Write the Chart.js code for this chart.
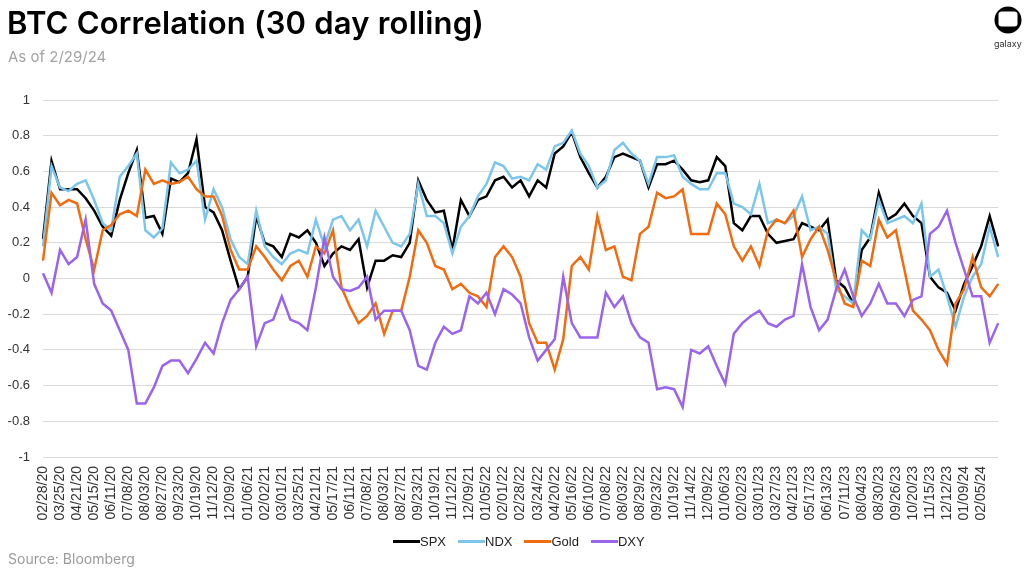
<!DOCTYPE html>
<html>
<head>
<meta charset="utf-8">
<script src="https://cdn.jsdelivr.net/npm/chart.js@4.4.1/dist/chart.umd.min.js"></script>
<style>
  html, body { margin: 0; padding: 0; background: #fff; }
  #wrap { position: relative; width: 1024px; height: 574px; overflow: hidden; font-family: "Liberation Sans", Arial, sans-serif; }
  #chartBox { position: absolute; left: 0; top: 0; width: 1024px; height: 574px; }
  .title { position: absolute; left: 7px; top: 4px; font-family: Inter, sans-serif; font-weight: 600; font-size: 31px; color: #000; letter-spacing: 0.2px; }
  .subtitle { position: absolute; left: 8px; top: 47px; font-family: Inter, sans-serif; font-size: 15px; color: #a3a3a3; }
  .source { position: absolute; left: 8px; top: 550px; font-family: Inter, sans-serif; font-size: 14px; color: #9b9b9b; }
  .logo { position: absolute; left: 992px; top: 5px; }
  .logoText { position: absolute; left: 994px; top: 38px; font-family: Inter, sans-serif; font-size: 9px; color: #333; }
  .legend { position: absolute; left: 393px; top: 534px; display: flex; gap: 12px; font-size: 13px; color: #222; }
  .legend span { display: flex; align-items: center; }
  .legend i { display: inline-block; width: 27px; height: 3px; }
</style>
</head>
<body>
<div id="wrap">
  <div id="chartBox"><canvas id="corrChart"></canvas></div>
  <div class="title">BTC Correlation (30 day rolling)</div>
  <div class="subtitle">As of 2/29/24</div>
  <svg class="logo" width="32" height="32" viewBox="0 0 32 32">
    <circle cx="16" cy="15" r="13.5" fill="#000"/>
    <rect x="6.5" y="6.5" width="19" height="15" rx="3" fill="#fff"/>
  </svg>
  <div class="logoText">galaxy</div>
  <div class="legend" id="legend"></div>
  <div class="source">Source: Bloomberg</div>
</div>
<script>
// tick labels shown on the x axis (every 18 trading days)
const tickLabels = [
  "02/28/20","03/25/20","04/21/20","05/15/20","06/11/20","07/08/20","08/03/20","08/27/20",
  "09/23/20","10/19/20","11/12/20","12/09/20","01/06/21","02/02/21","03/01/21","03/25/21",
  "04/21/21","05/17/21","06/11/21","07/08/21","08/03/21","08/27/21","09/23/21","10/19/21",
  "11/12/21","12/09/21","01/05/22","02/01/22","02/28/22","03/24/22","04/20/22","05/16/22",
  "06/10/22","07/08/22","08/03/22","08/29/22","09/23/22","10/19/22","11/14/22","12/09/22",
  "01/06/23","02/02/23","03/01/23","03/27/23","04/21/23","05/17/23","06/13/23","07/11/23",
  "08/04/23","08/30/23","09/26/23","10/20/23","11/15/23","12/12/23","01/09/24","02/05/24"
];
// two readings per tick interval
const samplesPerTick = 2;

const spx = [
  0.22,0.66,0.50,0.50,0.50,0.45,0.38,0.29,0.24,0.44,0.59,0.72,0.34,0.35,0.25,0.56,0.54,0.59,0.78,0.40,
  0.37,0.27,0.10,-0.06,0.01,0.35,0.20,0.18,0.12,0.25,0.23,0.27,0.20,0.07,0.14,0.18,0.16,0.22,-0.05,0.10,
  0.10,0.13,0.12,0.20,0.55,0.44,0.37,0.38,0.16,0.44,0.35,0.44,0.46,0.55,0.57,0.51,0.55,0.46,0.55,0.51,
  0.70,0.74,0.82,0.68,0.59,0.51,0.57,0.68,0.70,0.68,0.66,0.51,0.64,0.64,0.66,0.61,0.55,0.54,0.55,0.68,
  0.63,0.31,0.27,0.35,0.35,0.25,0.20,0.21,0.22,0.31,0.29,0.27,0.33,-0.01,-0.05,-0.14,0.16,0.23,0.48,0.33,
  0.36,0.42,0.35,0.31,0.01,-0.05,-0.08,-0.18,-0.03,0.07,0.18,0.35,0.18
];
const ndx = [
  0.18,0.63,0.51,0.49,0.53,0.55,0.44,0.31,0.27,0.57,0.63,0.70,0.27,0.23,0.28,0.65,0.59,0.61,0.66,0.33,
  0.50,0.40,0.22,0.12,0.08,0.38,0.18,0.12,0.08,0.14,0.16,0.14,0.33,0.18,0.33,0.35,0.27,0.33,0.18,0.38,
  0.29,0.20,0.18,0.25,0.53,0.35,0.35,0.31,0.14,0.29,0.35,0.46,0.53,0.65,0.63,0.56,0.57,0.55,0.64,0.61,
  0.74,0.76,0.83,0.70,0.63,0.51,0.55,0.72,0.76,0.70,0.66,0.53,0.68,0.68,0.69,0.57,0.53,0.50,0.50,0.59,
  0.59,0.42,0.40,0.36,0.53,0.31,0.33,0.31,0.35,0.46,0.27,0.29,0.25,-0.06,-0.10,-0.14,0.27,0.22,0.44,0.31,
  0.33,0.35,0.31,0.42,0.01,0.05,-0.10,-0.27,-0.10,0.01,0.08,0.29,0.12
];
const gold = [
  0.10,0.48,0.41,0.44,0.42,0.22,0.05,0.27,0.30,0.36,0.38,0.35,0.61,0.53,0.55,0.53,0.54,0.57,0.50,0.46,
  0.46,0.35,0.16,0.05,0.05,0.18,0.12,0.05,-0.01,0.07,0.10,0.01,0.18,0.14,0.27,-0.05,-0.16,-0.25,-0.21,-0.14,
  -0.31,-0.18,-0.18,0.01,0.27,0.20,0.07,0.05,-0.06,-0.03,-0.08,-0.10,-0.16,0.12,0.18,0.12,0.01,-0.25,-0.36,-0.36,
  -0.51,-0.34,0.07,0.12,0.05,0.35,0.16,0.18,0.01,-0.01,0.25,0.29,0.48,0.45,0.46,0.50,0.25,0.25,0.25,0.42,
  0.36,0.18,0.10,0.18,0.07,0.27,0.33,0.31,0.38,0.12,0.22,0.29,0.16,-0.01,-0.14,-0.16,0.10,0.07,0.33,0.23,
  0.27,0.05,-0.18,-0.23,-0.29,-0.40,-0.48,-0.14,-0.06,0.12,-0.05,-0.10,-0.03
];
const dxy = [
  0.03,-0.08,0.16,0.08,0.12,0.33,-0.03,-0.14,-0.18,-0.29,-0.40,-0.70,-0.70,-0.61,-0.49,-0.46,-0.46,-0.53,-0.45,-0.36,
  -0.42,-0.25,-0.12,-0.06,0.01,-0.38,-0.25,-0.23,-0.10,-0.23,-0.25,-0.29,-0.05,0.23,0.01,-0.06,-0.07,-0.05,0.01,-0.23,
  -0.18,-0.18,-0.18,-0.29,-0.49,-0.51,-0.36,-0.27,-0.31,-0.29,-0.10,-0.14,-0.08,-0.20,-0.06,-0.09,-0.14,-0.33,-0.46,-0.40,
  -0.34,0.01,-0.25,-0.33,-0.33,-0.33,-0.08,-0.16,-0.10,-0.25,-0.33,-0.36,-0.62,-0.61,-0.62,-0.72,-0.40,-0.42,-0.38,-0.49,
  -0.59,-0.31,-0.25,-0.21,-0.18,-0.25,-0.27,-0.23,-0.21,0.08,-0.16,-0.29,-0.23,-0.06,0.05,-0.10,-0.21,-0.14,-0.03,-0.14,
  -0.14,-0.21,-0.12,-0.10,0.25,0.29,0.38,0.20,0.05,-0.10,-0.10,-0.36,-0.25
];

const seriesNames = ["SPX", "NDX", "Gold", "DXY"];
const seriesColors = ["#000000", "#7cc6ec", "#ef6c10", "#9a64ec"];
const seriesData = [spx, ndx, gold, dxy];

// one category per reading, labelled only where a tick label falls
const labels = spx.map((v, i) => i % samplesPerTick === 0 ? (tickLabels[i / samplesPerTick] || "") : "");

const datasets = seriesData.map((d, k) => ({
  label: seriesNames[k],
  data: d,
  borderColor: seriesColors[k],
  backgroundColor: seriesColors[k],
  borderWidth: 2.5,
  pointRadius: 0,
  tension: 0,
  order: seriesNames.length - k
}));

const legendEl = document.getElementById("legend");
seriesNames.forEach((name, k) => {
  const s = document.createElement("span");
  s.innerHTML = '<i style="background:' + seriesColors[k] + '"></i>' + name;
  legendEl.appendChild(s);
});

new Chart(document.getElementById("corrChart"), {
  type: "line",
  data: { labels: labels, datasets: datasets },
  options: {
    responsive: true,
    maintainAspectRatio: false,
    animation: false,
    layout: { padding: { left: 0, right: 4, top: 100, bottom: 47 } },
    plugins: {
      legend: { display: false },
      tooltip: { enabled: false }
    },
    scales: {
      x: {
        type: "category",
        offset: false,
        grid: { display: false, drawTicks: false },
        border: { display: false },
        afterFit: (scale) => { scale.height = 70; },
        ticks: {
          autoSkip: false,
          maxRotation: 90,
          minRotation: 90,
          padding: 9,
          color: "#333",
          font: { family: "Liberation Sans", size: 14 }
        }
      },
      y: {
        min: -1,
        max: 1,
        grid: { color: "#d9d9d9", lineWidth: 1, drawTicks: false },
        border: { display: false },
        afterFit: (scale) => { scale.width = 43; },
        ticks: {
          stepSize: 0.2,
          padding: 13,
          color: "#333",
          font: { family: "Liberation Sans", size: 13 },
          callback: (v) => String(Math.round(v * 10) / 10)
        }
      }
    }
  }
});
</script>
</body>
</html>
